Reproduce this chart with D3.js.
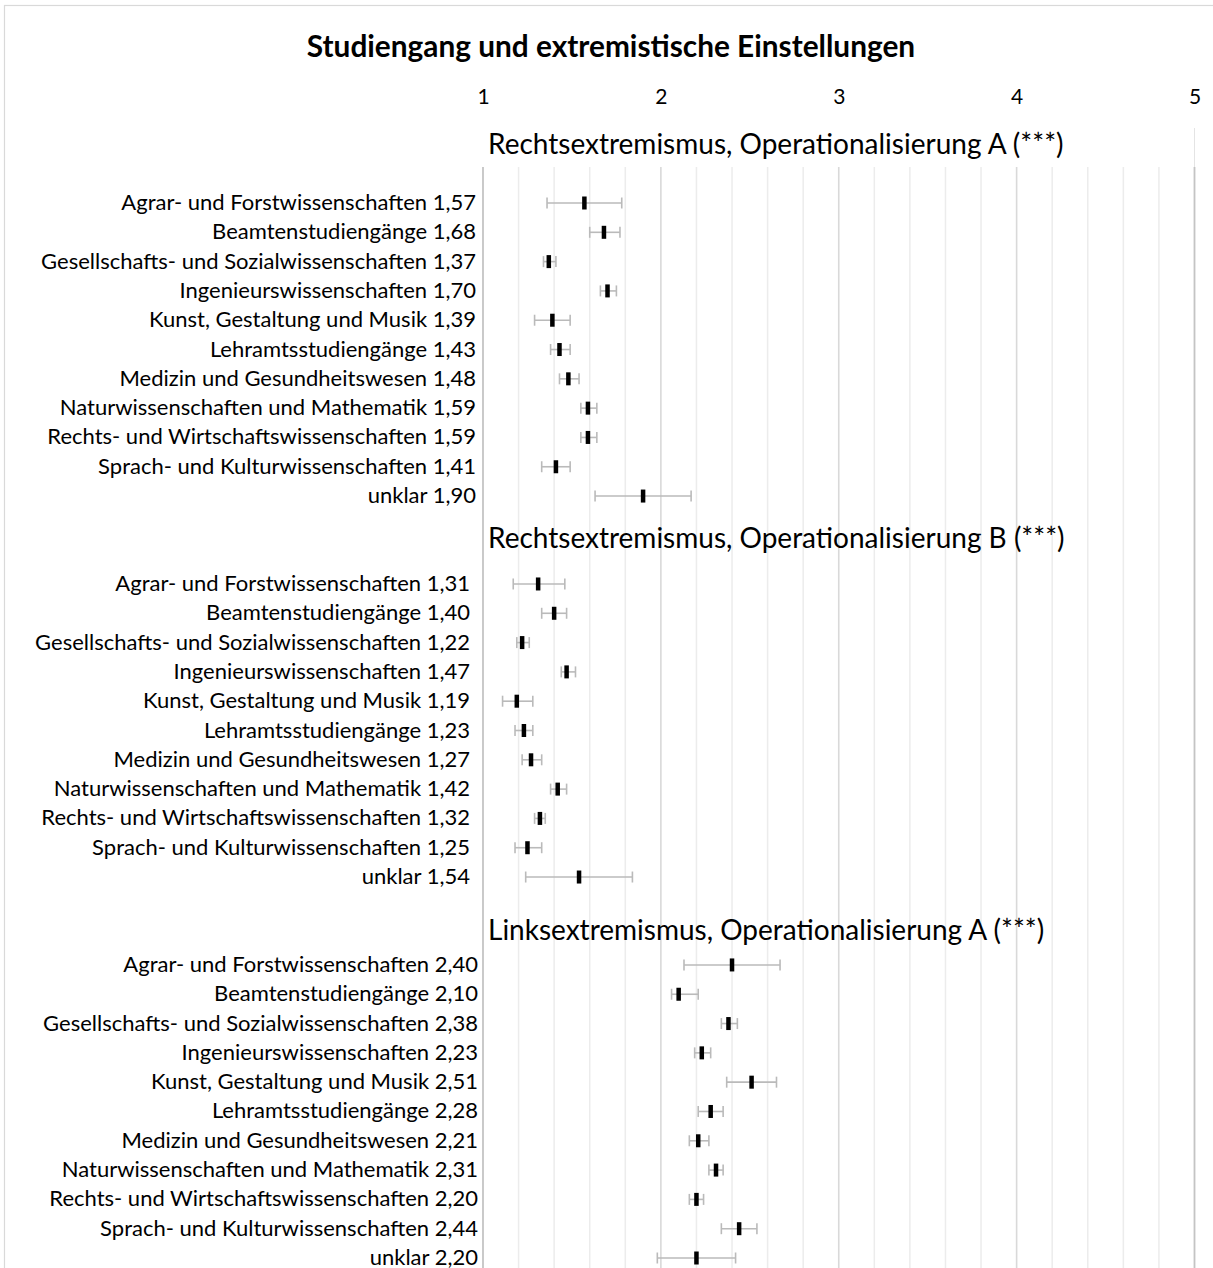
<!DOCTYPE html>
<html lang="de">
<head>
<meta charset="utf-8">
<title>Studiengang und extremistische Einstellungen</title>
<script src="https://cdn.jsdelivr.net/npm/d3@7"></script>
<style>
  html, body { margin: 0; padding: 0; background: #fff; }
  svg { display: block; }
  text { font-family: Lato, "Open Sans", sans-serif; fill: #000; }
</style>
</head>
<body>
<script>
// ---- data -------------------------------------------------------------
const chartTitle = "Studiengang und extremistische Einstellungen";

const categories = [
  "Agrar- und Forstwissenschaften",
  "Beamtenstudiengänge",
  "Gesellschafts- und Sozialwissenschaften",
  "Ingenieurswissenschaften",
  "Kunst, Gestaltung und Musik",
  "Lehramtsstudiengänge",
  "Medizin und Gesundheitswesen",
  "Naturwissenschaften und Mathematik",
  "Rechts- und Wirtschaftswissenschaften",
  "Sprach- und Kulturwissenschaften",
  "unklar"
];

const groupTitles = [
  "Rechtsextremismus, Operationalisierung A (***)",
  "Rechtsextremismus, Operationalisierung B (***)",
  "Linksextremismus, Operationalisierung A (***)"
];

// means and 95% confidence bounds per group
const meansRechtsA = [1.57, 1.68, 1.37, 1.70, 1.39, 1.43, 1.48, 1.59, 1.59, 1.41, 1.90];
const lowRechtsA   = [1.36, 1.60, 1.34, 1.66, 1.29, 1.38, 1.43, 1.55, 1.55, 1.33, 1.63];
const highRechtsA  = [1.78, 1.77, 1.41, 1.75, 1.49, 1.49, 1.54, 1.64, 1.64, 1.49, 2.17];

const meansRechtsB = [1.31, 1.40, 1.22, 1.47, 1.19, 1.23, 1.27, 1.42, 1.32, 1.25, 1.54];
const lowRechtsB   = [1.17, 1.33, 1.19, 1.44, 1.11, 1.18, 1.22, 1.38, 1.29, 1.18, 1.24];
const highRechtsB  = [1.46, 1.47, 1.26, 1.52, 1.28, 1.28, 1.33, 1.47, 1.35, 1.33, 1.84];

const meansLinksA  = [2.40, 2.10, 2.38, 2.23, 2.51, 2.28, 2.21, 2.31, 2.20, 2.44, 2.20];
const lowLinksA    = [2.13, 2.06, 2.34, 2.19, 2.37, 2.21, 2.16, 2.27, 2.16, 2.34, 1.98];
const highLinksA   = [2.67, 2.21, 2.43, 2.28, 2.65, 2.35, 2.27, 2.35, 2.24, 2.54, 2.42];

const xTickValues = [1, 2, 3, 4, 5];
const xMinorStep = 0.2;

// ---- layout -----------------------------------------------------------
const W = 1213, H = 1268;
const plot = { left: 483, right: 1194.5, top: 167, bottom: 1268 };
const firstRowY = 203, lastRowY = 1258;
const labelRight = [476, 470, 478];      // right edge of row labels per group
const labelShift = -1.5;                  // small lift of row labels off the row centre
const groupTitleY = [143, 537, 929];
const groupTitleX = 488;

const seriesByGroup = [
  { means: meansRechtsA, low: lowRechtsA, high: highRechtsA },
  { means: meansRechtsB, low: lowRechtsB, high: highRechtsB },
  { means: meansLinksA,  low: lowLinksA,  high: highLinksA }
];

// rows: every category per group, two empty slots between groups
const rows = [];
const slots = [];
seriesByGroup.forEach((s, g) => {
  categories.forEach((c, i) => {
    const key = g + "|" + i;
    slots.push(key);
    rows.push({ key, group: g, category: c, mean: s.means[i], low: s.low[i], high: s.high[i] });
  });
  if (g < seriesByGroup.length - 1) slots.push("gap" + g + "a", "gap" + g + "b");
});

const de = d3.formatLocale({ decimal: ",", thousands: ".", grouping: [3], currency: ["", " €"] });
const fmt = de.format(".2f");

const x = d3.scaleLinear().domain([1, 5]).range([plot.left, plot.right]);
const y = d3.scalePoint().domain(slots).range([firstRowY, lastRowY]);

const svg = d3.select("body").append("svg")
  .attr("width", W).attr("height", H)
  .attr("viewBox", `0 0 ${W} ${H}`);

// chart frame
svg.append("rect")
  .attr("x", 4.5).attr("y", 5.5)
  .attr("width", W + 20).attr("height", H + 20)
  .attr("fill", "none").attr("stroke", "#d9d9d9").attr("stroke-width", 1.2);

// title
svg.append("text")
  .attr("x", 611).attr("y", 45)
  .attr("text-anchor", "middle").attr("dominant-baseline", "central")
  .attr("font-size", 29.8).attr("font-weight", 700)
  .text(chartTitle);

// minor gridlines
const minorTicks = d3.range(1, 5.0001, xMinorStep).filter(v => Math.abs(v - Math.round(v)) > 1e-6);
svg.append("g").selectAll("line").data(minorTicks).join("line")
  .attr("x1", d => x(d)).attr("x2", d => x(d))
  .attr("y1", plot.top).attr("y2", plot.bottom)
  .attr("stroke", "#ececec").attr("stroke-width", 1.5);

// major gridlines
svg.append("g").selectAll("line").data(xTickValues.slice(1, -1)).join("line")
  .attr("x1", d => x(d)).attr("x2", d => x(d))
  .attr("y1", plot.top).attr("y2", plot.bottom)
  .attr("stroke", "#d9d9d9").attr("stroke-width", 1.6);

// plot edges
svg.append("line")
  .attr("x1", x(5)).attr("x2", x(5)).attr("y1", 128).attr("y2", plot.top)
  .attr("stroke", "#e4e4e4").attr("stroke-width", 1);
[1, 5].forEach(v => {
  svg.append("line")
    .attr("x1", x(v)).attr("x2", x(v))
    .attr("y1", plot.top).attr("y2", plot.bottom)
    .attr("stroke", "#c4c4c4").attr("stroke-width", 1.8);
});

// value axis on top
const axisTop = svg.append("g")
  .attr("transform", "translate(0,97)")
  .call(d3.axisTop(x).tickValues(xTickValues).tickSize(0).tickPadding(0).tickFormat(d3.format("d")));
axisTop.select(".domain").remove();
axisTop.selectAll("text")
  .attr("font-size", 21).attr("font-family", "Lato, sans-serif")
  .attr("dy", "0.35em").attr("fill", "#000");

// group headings
svg.append("g").selectAll("text").data(groupTitles).join("text")
  .attr("x", groupTitleX).attr("y", (d, i) => groupTitleY[i])
  .attr("dominant-baseline", "central")
  .attr("font-size", 28)
  .text(d => d);

// row labels
svg.append("g").selectAll("text").data(rows).join("text")
  .attr("x", d => labelRight[d.group]).attr("y", d => y(d.key) + labelShift)
  .attr("text-anchor", "end").attr("dominant-baseline", "central")
  .attr("font-size", 22)
  .text(d => d.category + " " + fmt(d.mean));

// confidence intervals
const ci = svg.append("g").attr("stroke", "#bababa").attr("stroke-width", 1.6).attr("fill", "none");
ci.selectAll("line.bar").data(rows).join("line").attr("class", "bar")
  .attr("x1", d => x(d.low)).attr("x2", d => x(d.high))
  .attr("y1", d => y(d.key)).attr("y2", d => y(d.key));
ci.selectAll("line.capl").data(rows).join("line").attr("class", "capl")
  .attr("x1", d => x(d.low)).attr("x2", d => x(d.low))
  .attr("y1", d => y(d.key) - 5.5).attr("y2", d => y(d.key) + 5.5);
ci.selectAll("line.caph").data(rows).join("line").attr("class", "caph")
  .attr("x1", d => x(d.high)).attr("x2", d => x(d.high))
  .attr("y1", d => y(d.key) - 5.5).attr("y2", d => y(d.key) + 5.5);

// means
svg.append("g").selectAll("rect").data(rows).join("rect")
  .attr("x", d => x(d.mean) - 2.25).attr("y", d => y(d.key) - 6.5)
  .attr("width", 4.5).attr("height", 13)
  .attr("fill", "#000");
</script>
</body>
</html>
